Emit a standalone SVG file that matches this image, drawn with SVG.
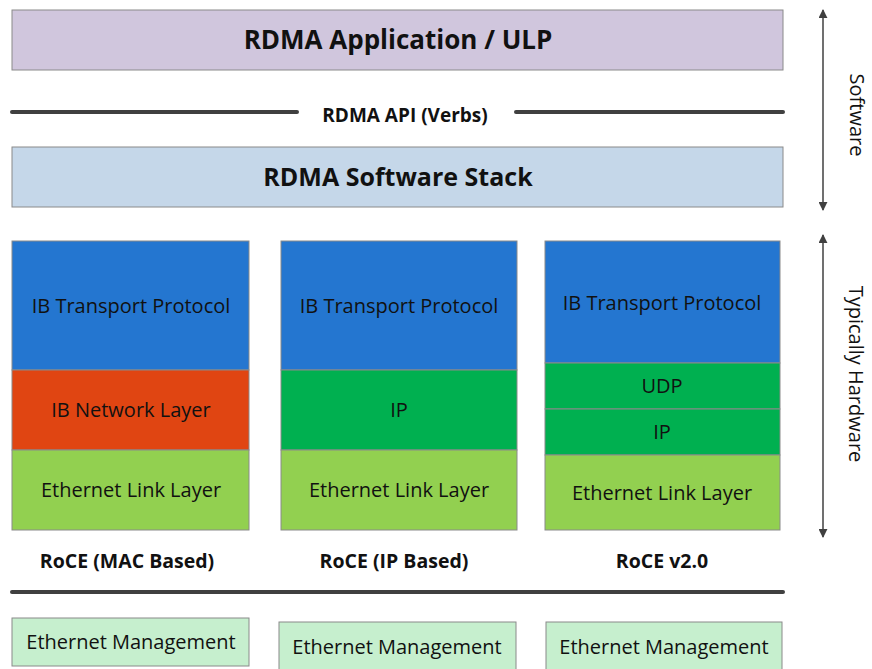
<svg xmlns="http://www.w3.org/2000/svg" width="872" height="669" viewBox="0 0 872 669">
<defs>
<style>
text{font-family:"Open Sans","Noto Sans","Liberation Sans",sans-serif;fill:#111;text-anchor:middle}
.b{font-weight:bold}
.lay{stroke:#8a8a8a;stroke-width:1}
.blue{fill:#2476d0}.red{fill:#e04512}.green{fill:#00b050}.lg{fill:#92d050}.mg{fill:#c6efce}
.t{font-size:20px}
.bar{stroke:#404040;stroke-width:4;stroke-linecap:round}
.ax{stroke:#404040;stroke-width:1.5}
</style>
<marker id="ah" viewBox="0 0 10 10" refX="9" refY="5" markerWidth="9" markerHeight="9" orient="auto-start-reverse" markerUnits="userSpaceOnUse"><path d="M0,0 L10,5 L0,10 z" fill="#404040"/></marker>
</defs>
<rect width="872" height="669" fill="#fff"/>
<g id="app"><rect x="12" y="10" width="771" height="60" fill="#d0c6dd" class="lay"/><text x="398" y="49" class="b" font-size="26">RDMA Application / ULP</text></g>
<g id="api"><line x1="12" y1="112" x2="297" y2="112" class="bar" stroke-width="3.5"/><line x1="516" y1="112" x2="783" y2="112" class="bar" stroke-width="3.5"/><text x="405" y="122" class="b" font-size="19">RDMA API (Verbs)</text></g>
<g id="stack"><rect x="12" y="147" width="771" height="60" fill="#c5d7e9" class="lay"/><text x="398" y="186" class="b" font-size="25">RDMA Software Stack</text></g>
<g id="col1">
<rect x="12" y="241" width="237" height="129" class="blue lay"/><text x="131" y="313" class="t">IB Transport Protocol</text>
<rect x="12" y="370" width="237" height="80" class="red lay"/><text x="131" y="417" class="t">IB Network Layer</text>
<rect x="12" y="450" width="237" height="80" class="lg lay"/><text x="131" y="497" class="t">Ethernet Link Layer</text>
<text x="127" y="568" class="b" font-size="19.5">RoCE (MAC Based)</text>
</g>
<g id="col2">
<rect x="281" y="241" width="236" height="129" class="blue lay"/><text x="399" y="313" class="t">IB Transport Protocol</text>
<rect x="281" y="370" width="236" height="80" class="green lay"/><text x="399" y="417" class="t">IP</text>
<rect x="281" y="450" width="236" height="80" class="lg lay"/><text x="399" y="497" class="t">Ethernet Link Layer</text>
<text x="394" y="568" class="b" font-size="19.5">RoCE (IP Based)</text>
</g>
<g id="col3">
<rect x="545" y="241" width="235" height="122" class="blue lay"/><text x="662" y="310" class="t">IB Transport Protocol</text>
<rect x="545" y="363" width="235" height="46" class="green lay"/><text x="662" y="393" class="t">UDP</text>
<rect x="545" y="409" width="235" height="46" class="green lay"/><text x="662" y="439" class="t">IP</text>
<rect x="545" y="455" width="235" height="75" class="lg lay"/><text x="662" y="500" class="t">Ethernet Link Layer</text>
<text x="662" y="568" class="b" font-size="19.5">RoCE v2.0</text>
</g>
<g id="sep"><line x1="12" y1="592" x2="783" y2="592" class="bar"/></g>
<g id="mgmt1"><rect x="12" y="618" width="237" height="48" class="mg lay"/><text x="131" y="649" class="t">Ethernet Management</text></g>
<g id="mgmt2"><rect x="279" y="622" width="237" height="50" class="mg lay"/><text x="397" y="654" class="t">Ethernet Management</text></g>
<g id="mgmt3"><rect x="546" y="622" width="236" height="50" class="mg lay"/><text x="664" y="654" class="t">Ethernet Management</text></g>
<g id="connectors">
<line x1="823" y1="10" x2="823" y2="210" class="ax" marker-start="url(#ah)" marker-end="url(#ah)"/>
<line x1="823" y1="235" x2="823" y2="537" class="ax" marker-start="url(#ah)" marker-end="url(#ah)"/>
</g>
<g id="labels">
<text transform="translate(850,115) rotate(90)" font-size="20">Software</text>
<text transform="translate(849,374) rotate(90)" font-size="20">Typically Hardware</text>
</g>
</svg>
